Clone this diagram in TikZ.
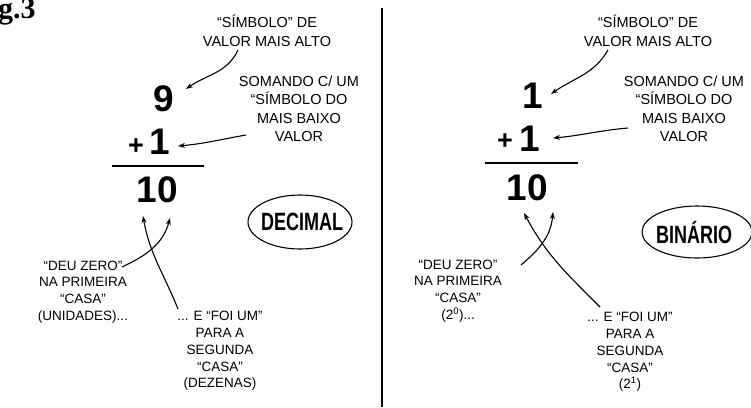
\documentclass[tikz,border=0pt]{standalone}
\usepackage{fontspec}
\setmainfont{Liberation Sans}
\newfontfamily\serifbf{Liberation Serif}
\usetikzlibrary{arrows.meta,shapes.geometric}
\tikzset{
  note/.style={align=center,inner sep=0pt,font=\fontsize{14.5}{18.5}\selectfont},
  smallnote/.style={align=center,inner sep=0pt,font=\fontsize{13.5}{16.8}\selectfont},
  digit/.style={inner sep=0pt,font=\bfseries\fontsize{37}{37}\selectfont},
  plussign/.style={inner sep=0pt,font=\bfseries\fontsize{27}{27}\selectfont},
  ptr/.style={line width=1.1pt,-{Stealth[length=7pt,width=5pt]}},
  oval/.style={draw,ellipse,line width=1.1pt,inner sep=0pt},
  rulebar/.style={line width=2pt},
  ovaltext/.style={inner sep=0pt,font=\bfseries\fontsize{25}{25}\selectfont,xscale=0.72},
}
\begin{document}
\begin{tikzpicture}[x=1pt,y=-1pt]
\useasboundingbox (0,0) rectangle (751,407);
% figure label
\node[anchor=base west,inner sep=0pt,font=\serifbf\bfseries\fontsize{30}{30}\selectfont] (fig) at (-2,18) {g.3};
% divider
\coordinate (dtop) at (382,8);
\coordinate (dbot) at (382,407);
\draw[line width=1.5pt] (dtop) -- (dbot);

% ---------------- LEFT: DECIMAL ----------------
\node[note] (ltop) at (267,31) {“SÍMBOLO” DE\\VALOR MAIS ALTO};
\node[note] (lsom) at (299,109) {SOMANDO C/ UM\\“SÍMBOLO DO\\MAIS BAIXO\\VALOR};
\node[digit] (lnine) at (163.5,98.5) {9};
\node[plussign] (lplus) at (136,147) {+};
\node[digit] (lone) at (160,142) {1};
\coordinate (lr1) at (112,166);
\coordinate (lr2) at (204,166);
\draw[rulebar] (lr1) -- (lr2);
\node[digit] (lten) at (157.5,190) {10};
\node[oval,minimum width=104pt,minimum height=54pt] (ldec) at (300,222) {};
\node[ovaltext] (ldect) at (302,222) {DECIMAL};
\node[smallnote] (lzero) at (83,292) {“DEU ZERO”\\NA PRIMEIRA\\“CASA”\\(UNIDADES)...};
\node[smallnote] (lfoi) at (220,351) {... E “FOI UM”\\PARA A\\SEGUNDA\\“CASA”\\(DEZENAS)};
\coordinate (la1s) at (238,50);
\coordinate (la1e) at (186,89);
\coordinate (la2s) at (246,135);
\coordinate (la2e) at (178,146);
\coordinate (la3s) at (122,267);
\coordinate (la3e) at (170,218);
\coordinate (la4s) at (178,309);
\coordinate (la4e) at (143,216);
\draw[ptr] (la1s) to[out=-115,in=35] (la1e);
\draw[ptr] (la2s) to[out=190,in=5] (la2e);
\draw[ptr] (la3s) to[out=25,in=-105] (la3e);
\draw[ptr] (la4s) to[out=112,in=-80] (la4e);

% ---------------- RIGHT: BINARIO ----------------
\node[note] (rtop) at (648,31) {“SÍMBOLO” DE\\VALOR MAIS ALTO};
\node[note] (rsom) at (684,109) {SOMANDO C/ UM\\“SÍMBOLO DO\\MAIS BAIXO\\VALOR};
\node[digit] (rone) at (533,96) {1};
\node[plussign] (rplus) at (505,142) {+};
\node[digit] (rtwo) at (530,139) {1};
\coordinate (rr1) at (485,163);
\coordinate (rr2) at (578,163);
\draw[rulebar] (rr1) -- (rr2);
\node[digit] (rten) at (527,188) {10};
\node[oval,minimum width=110pt,minimum height=52pt] (rbin) at (697,232) {};
\node[ovaltext] (rbint) at (694,233) {BINÁRIO};
\node[smallnote] (rzero) at (458,291) {“DEU ZERO”\\NA PRIMEIRA\\“CASA”\\(2\textsuperscript{0})...};
\node[smallnote] (rfoi) at (630,352) {... E “FOI UM”\\PARA A\\SEGUNDA\\“CASA”\\(2\textsuperscript{1})};
\coordinate (ra1s) at (608,50);
\coordinate (ra1e) at (551,94);
\coordinate (ra2s) at (628,128);
\coordinate (ra2e) at (553,138);
\coordinate (ra3s) at (521,265);
\coordinate (ra3e) at (553,212);
\coordinate (ra4s) at (600,307);
\coordinate (ra4e) at (524,213);
\draw[ptr] (ra1s) to[out=-120,in=35] (ra1e);
\draw[ptr] (ra2s) to[out=185,in=5] (ra2e);
\draw[ptr] (ra3s) to[out=40,in=-95] (ra3e);
\draw[ptr] (ra4s) to[out=135,in=-62] (ra4e);
\end{tikzpicture}
\end{document}
